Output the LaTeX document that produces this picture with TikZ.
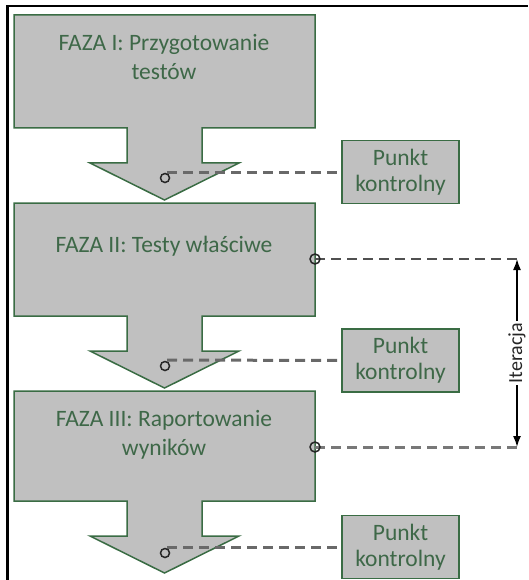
\documentclass[tikz,border=0pt]{standalone}
\usepackage{fontspec}
\setmainfont{Carlito}
\usetikzlibrary{arrows.meta}
\definecolor{boxfill}{RGB}{192,192,192}
\definecolor{boxline}{RGB}{58,108,68}
\definecolor{boxtext}{RGB}{62,104,72}
\definecolor{dashdark}{RGB}{80,80,80}
\definecolor{dashmid}{RGB}{105,105,105}
\definecolor{dashlight}{RGB}{120,120,120}
\begin{document}
\begin{tikzpicture}[x=1pt,y=-1pt,
  phase/.style={draw=boxline, fill=boxfill, line width=1.5pt, line join=miter},
  phasetext/.style={text=boxtext, font=\fontsize{23.5}{29}\selectfont, align=center, inner sep=0pt, anchor=base},
  checkbox/.style={draw=boxline, fill=boxfill, line width=1.5pt, minimum width=117pt, minimum height=63pt,
    text=boxtext, font=\fontsize{23.5}{26}\selectfont, align=center, inner sep=0pt},
  link/.style={line width=3pt, dash pattern=on 10pt off 6pt},
  ring/.style={draw=black!85, line width=1.5pt},
  iterarrow/.style={line width=1.6pt, {Latex[length=11pt,width=8pt]}-{Latex[length=11pt,width=8pt]}},
]
\useasboundingbox (0,0) rectangle (528,580);
\fill[white] (0,0) rectangle (528,580);
% frame
\draw[line width=2.2pt] (7.5,580) -- (7.5,6) -- (528,6);

% phase shapes (rect + downward arrow)
\foreach \t/\h in {15/113,203/113,391/110}{
  \draw[phase] (14,\t) -- (315,\t) -- (315,{\t+\h}) -- (202,{\t+\h}) -- (202,{\t+\h+35})
    -- (239,{\t+\h+35}) -- (164.5,{\t+\h+72}) -- (90,{\t+\h+35}) -- (127,{\t+\h+35})
    -- (127,{\t+\h}) -- (14,{\t+\h}) -- cycle;
}

% phase texts (base = last line)
\node[phasetext] (f1) at (164,80) {FAZA I: Przygotowanie\\testów};
\node[phasetext] (f2) at (164,252) {FAZA II: Testy właściwe};
\node[phasetext] (f3) at (164,455) {FAZA III: Raportowanie\\wyników};

% checkpoint boxes
\node[checkbox] (k1) at (400.5,172) {Punkt\\kontrolny};
\node[checkbox] (k2) at (400.5,360.5) {Punkt\\kontrolny};
\node[checkbox] (k3) at (400.5,547) {Punkt\\kontrolny};

% checkpoint links
\coordinate (c1) at (167,172);
\coordinate (c2) at (167,360);
\coordinate (c3) at (167,547);
\foreach \i in {1,2,3}{
  \draw[link, dashmid] (c\i) -- (k\i.west);
  \draw[ring] ([xshift=-2pt,yshift=-6pt]c\i) circle (4.5pt);
}

% iteration
\coordinate (i1) at (315,259);
\coordinate (i2) at (315,447);
\coordinate (e1) at (517,259);
\coordinate (e2) at (517,447);
\draw[link, dashdark, line width=2.4pt] (i1) -- (e1);
\draw[link, dashlight] (i2) -- (e2);
\draw[ring] (i1) circle (5pt);
\draw[ring] (i2) circle (5pt);
\draw[iterarrow] (e1) -- (e2) node[midway, rotate=90, fill=white, inner sep=1.5pt, font=\fontsize{20}{22}\selectfont, text=black!85] (lbl) {Iteracja};
\end{tikzpicture}
\end{document}
